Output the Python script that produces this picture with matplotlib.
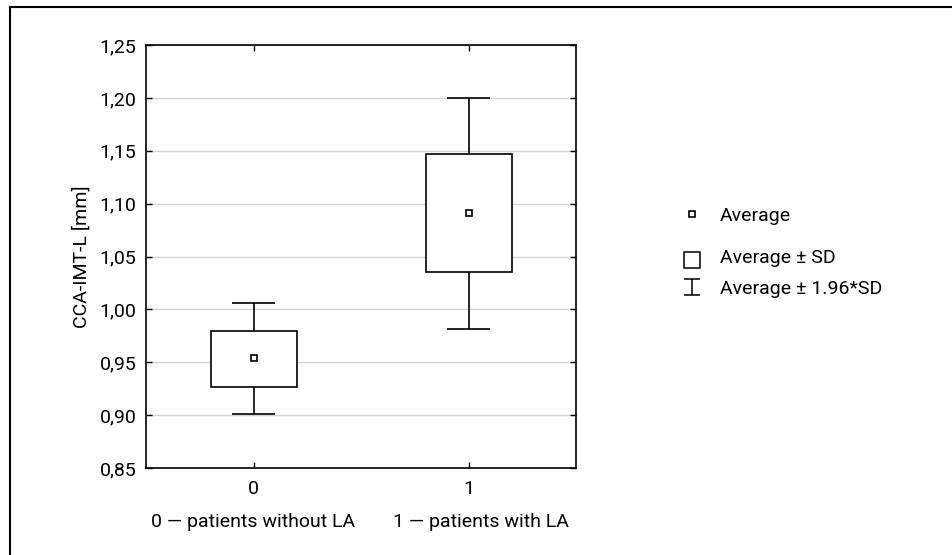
import matplotlib
matplotlib.use("Agg")
import matplotlib.pyplot as plt
import numpy as np
from matplotlib.lines import Line2D
from matplotlib.path import Path

plt.rcParams['font.family'] = ['Roboto', 'DejaVu Sans']

# Data
groups = [0, 1]
group_labels = ["0", "1"]
group_names = ["0 \u2014 patients without LA", "1 \u2014 patients with LA"]
means = [0.954, 1.091]
sd_low = [0.927, 1.035]
sd_high = [0.980, 1.147]
ci_low = [0.901, 0.981]
ci_high = [1.006, 1.200]
yticks = [0.85, 0.90, 0.95, 1.00, 1.05, 1.10, 1.15, 1.20, 1.25]
ylabel = "CCA-IMT-L [mm]"
legend_labels = ["Average", "Average \u00b1 SD", "Average \u00b1 1.96*SD"]

FS = 14
W, H = 952, 555
fig = plt.figure(figsize=(W / 100, H / 100), dpi=100)
ax = fig.add_axes([146 / W, 1 - 468 / H, (576 - 146) / W, (468 - 45) / H])

x = np.array(groups, dtype=float)
lo = np.array(sd_low)
hi = np.array(sd_high)
clo = np.array(ci_low)
chi = np.array(ci_high)

lw = 1.2
# whiskers
ax.vlines(x, clo, lo, color='black', lw=lw, zorder=3)
ax.vlines(x, hi, chi, color='black', lw=lw, zorder=3)
ax.hlines(clo, x - 0.1, x + 0.1, color='black', lw=lw, zorder=3)
ax.hlines(chi, x - 0.1, x + 0.1, color='black', lw=lw, zorder=3)
# boxes
ax.bar(x, hi - lo, bottom=lo, width=0.4, color='white', edgecolor='black', linewidth=lw, zorder=3)
# means
ax.plot(x, means, 's', ms=5, mfc='white', mec='black', mew=1.2, zorder=4, linestyle='none')

ax.set_xlim(-0.5, 1.5)
ax.set_ylim(0.85, 1.25)
ax.set_yticks(yticks)
ax.set_yticklabels([f"{v:.2f}".replace('.', ',') for v in yticks])
ax.set_xticks(x)
ax.set_xticklabels(group_labels)
ax.tick_params(direction='in', length=4, width=1, top=True, right=True,
               labelsize=FS, pad=7, colors='black')
ax.tick_params(axis='x', pad=9)
ax.grid(axis='y', color='#d4d4d4', lw=1, zorder=0)
ax.set_axisbelow(True)
for s in ax.spines.values():
    s.set_linewidth(1.2)
ax.set_ylabel(ylabel, fontsize=FS, labelpad=6)

# category descriptions under tick labels
ax.text(0.0, -0.127, group_names[0], transform=ax.get_xaxis_transform(),
        ha='center', va='center', fontsize=FS)
ax.text(1.06, -0.127, group_names[1], transform=ax.get_xaxis_transform(),
        ha='center', va='center', fontsize=FS)

# legend (drawn item by item to match spacing)
ibeam = Path([(-1, 1), (1, 1), (0, 1), (0, -1), (-1, -1), (1, -1)],
             [Path.MOVETO, Path.LINETO, Path.MOVETO, Path.LINETO, Path.MOVETO, Path.LINETO])
leg_marker_y = [214, 260, 287]
leg_text_y = [216, 258, 289]
styles = [dict(marker='s', ms=5, mew=1.2, mfc='white'),
          dict(marker='s', ms=12, mew=1.1, mfc='white'),
          dict(marker=ibeam, ms=12, mew=1.1, mfc='none')]
for lab, my, ty, st in zip(legend_labels, leg_marker_y, leg_text_y, styles):
    fig.add_artist(Line2D([692 / W], [1 - my / H], linestyle='none', mec='black',
                          transform=fig.transFigure, **st))
    fig.text(720 / W, 1 - ty / H, lab, ha='left', va='center', fontsize=FS)

# outer frame (top and left)
fig.add_artist(Line2D([10 / W, 1], [1 - 7 / H, 1 - 7 / H], color='black', lw=1.5,
                      transform=fig.transFigure))
fig.add_artist(Line2D([10 / W, 10 / W], [0, 1 - 7 / H], color='black', lw=1.5,
                      transform=fig.transFigure))

fig.savefig("out.png", dpi=100)
